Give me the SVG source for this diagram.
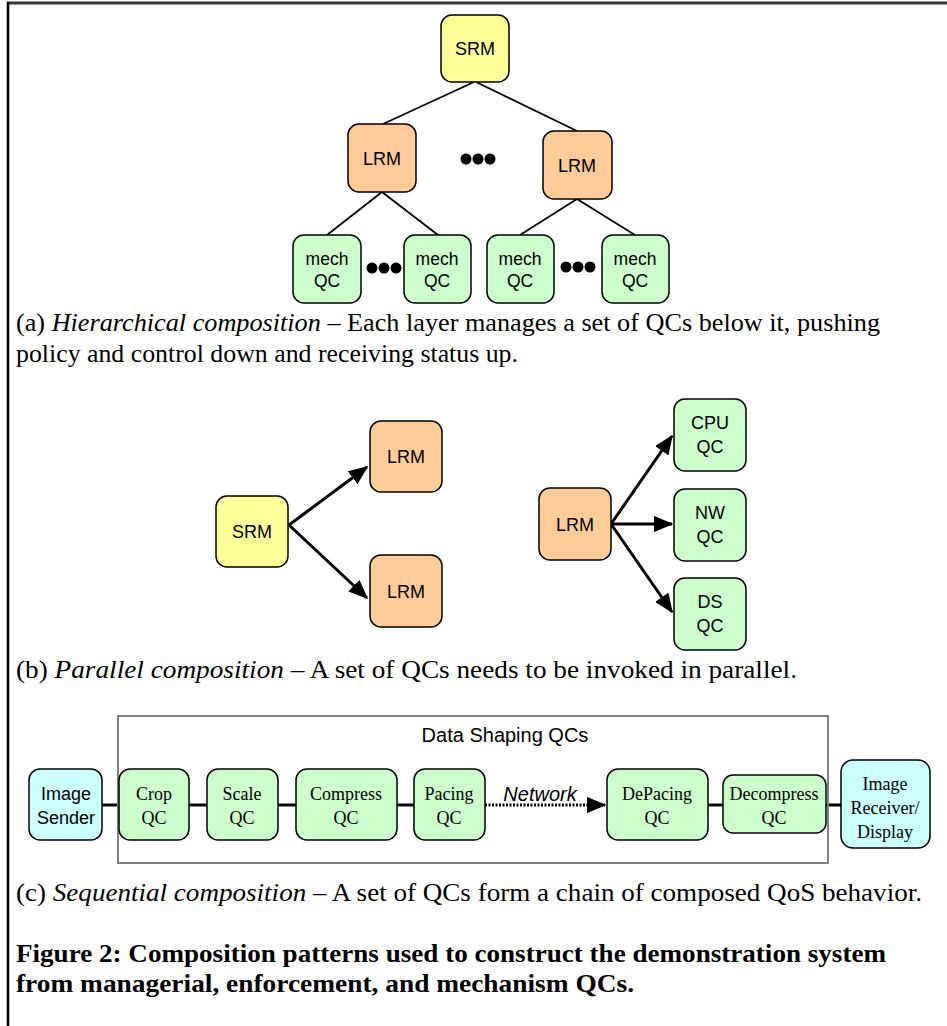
<svg xmlns="http://www.w3.org/2000/svg" width="947" height="1026" viewBox="0 0 947 1026">
<style>
.n{stroke:#000;stroke-width:1.5}
.srm{fill:#ffff99}
.lrm{fill:#ffcc99}
.qc{fill:#ccffcc}
.io{fill:#ccffff}
.sans{font-family:"Liberation Sans",Arial,sans-serif;fill:#000;text-anchor:middle}
.ser{font-family:"Liberation Serif","Times New Roman",serif;fill:#000;text-anchor:middle}
.cap{font-family:"Liberation Serif","Times New Roman",serif;fill:#000;font-size:26px}
.tl{stroke:#000;stroke-width:1.8;fill:none}
.ar{stroke:#000;stroke-width:3;fill:none;marker-end:url(#ah)}
.ch{stroke:#000;stroke-width:3;fill:none}
</style>
<defs>
<marker id="ah" markerWidth="6.5" markerHeight="5.4" refX="6" refY="2.7" orient="auto" markerUnits="strokeWidth">
<path d="M0,0 L6.5,2.7 L0,5.4 Z" fill="#000"/>
</marker>
</defs>
<rect width="947" height="1026" fill="#fff"/>
<line x1="7" y1="3" x2="947" y2="3" stroke="#333" stroke-width="3"/>
<line x1="8" y1="2" x2="8" y2="1026" stroke="#000" stroke-width="2.5"/>

<g id="connectors">
<line class="tl" x1="474" y1="82" x2="383" y2="124"/>
<line class="tl" x1="476" y1="82" x2="577" y2="131"/>
<line class="tl" x1="382" y1="192" x2="327" y2="235"/>
<line class="tl" x1="382" y1="192" x2="438" y2="235"/>
<line class="tl" x1="577" y1="199" x2="520" y2="235"/>
<line class="tl" x1="577" y1="199" x2="635" y2="235"/>
<line class="ar" x1="289" y1="525" x2="367" y2="467"/>
<line class="ar" x1="289" y1="525" x2="367" y2="598"/>
<line class="ar" x1="611" y1="524" x2="672" y2="436"/>
<line class="ar" x1="611" y1="524" x2="672" y2="524"/>
<line class="ar" x1="611" y1="524" x2="672" y2="612"/>
<line class="ch" x1="102" y1="805" x2="119" y2="805"/>
<line class="ch" x1="189" y1="805" x2="207" y2="805"/>
<line class="ch" x1="278" y1="805" x2="296" y2="805"/>
<line class="ch" x1="397" y1="805" x2="414" y2="805"/>
<line x1="485" y1="805" x2="605" y2="805" stroke="#000" stroke-width="3" stroke-dasharray="2,1.5" marker-end="url(#ah)"/>
<line class="ch" x1="708" y1="805" x2="723" y2="805"/>
<line class="ch" x1="826" y1="805" x2="841" y2="805"/>
</g>

<g id="dots" fill="#000">
<circle cx="466" cy="159" r="5.5"/><circle cx="478" cy="159" r="5.5"/><circle cx="490" cy="159" r="5.5"/>
<circle cx="372" cy="268" r="5.5"/><circle cx="384" cy="268" r="5.5"/><circle cx="396" cy="268" r="5.5"/>
<circle cx="566" cy="267" r="5.5"/><circle cx="578" cy="267" r="5.5"/><circle cx="590" cy="267" r="5.5"/>
</g>

<g id="a-srm"><rect class="n srm" x="441" y="15" width="68" height="67" rx="11"/><text class="sans" x="475" y="55" font-size="18">SRM</text></g>
<g id="a-lrm1"><rect class="n lrm" x="348" y="124" width="68" height="68" rx="11"/><text class="sans" x="382" y="165" font-size="18">LRM</text></g>
<g id="a-lrm2"><rect class="n lrm" x="543" y="131" width="69" height="68" rx="11"/><text class="sans" x="577" y="172" font-size="18">LRM</text></g>
<g id="a-mech1"><rect class="n qc" x="293" y="235" width="68" height="68" rx="11"/><text class="sans" x="327" y="265" font-size="17.5">mech</text><text class="sans" x="327" y="287" font-size="17.5">QC</text></g>
<g id="a-mech2"><rect class="n qc" x="404" y="235" width="67" height="68" rx="11"/><text class="sans" x="437" y="265" font-size="17.5">mech</text><text class="sans" x="437" y="287" font-size="17.5">QC</text></g>
<g id="a-mech3"><rect class="n qc" x="487" y="235" width="67" height="68" rx="11"/><text class="sans" x="520" y="265" font-size="17.5">mech</text><text class="sans" x="520" y="287" font-size="17.5">QC</text></g>
<g id="a-mech4"><rect class="n qc" x="602" y="235" width="67" height="68" rx="11"/><text class="sans" x="635" y="265" font-size="17.5">mech</text><text class="sans" x="635" y="287" font-size="17.5">QC</text></g>

<text class="cap" x="16" y="331" textLength="864" lengthAdjust="spacingAndGlyphs">(a) <tspan font-style="italic">Hierarchical composition</tspan> – Each layer manages a set of QCs below it, pushing</text>
<text class="cap" x="16" y="362" textLength="502" lengthAdjust="spacingAndGlyphs">policy and control down and receiving status up.</text>

<g id="b-srm"><rect class="n srm" x="216" y="496" width="72" height="71" rx="11"/><text class="sans" x="252" y="538" font-size="18">SRM</text></g>
<g id="b-lrm1"><rect class="n lrm" x="370" y="421" width="72" height="71" rx="11"/><text class="sans" x="406" y="463" font-size="18">LRM</text></g>
<g id="b-lrm2"><rect class="n lrm" x="370" y="555" width="72" height="72" rx="11"/><text class="sans" x="406" y="598" font-size="18">LRM</text></g>
<g id="b-lrm3"><rect class="n lrm" x="539" y="488" width="72" height="72" rx="11"/><text class="sans" x="575" y="531" font-size="18">LRM</text></g>
<g id="b-cpu"><rect class="n qc" x="674" y="399" width="72" height="72" rx="11"/><text class="sans" x="710" y="429" font-size="18">CPU</text><text class="sans" x="710" y="453" font-size="18">QC</text></g>
<g id="b-nw"><rect class="n qc" x="674" y="489" width="72" height="72" rx="11"/><text class="sans" x="710" y="519" font-size="18">NW</text><text class="sans" x="710" y="543" font-size="18">QC</text></g>
<g id="b-ds"><rect class="n qc" x="674" y="578" width="72" height="72" rx="11"/><text class="sans" x="710" y="608" font-size="18">DS</text><text class="sans" x="710" y="632" font-size="18">QC</text></g>

<text class="cap" x="16" y="678" textLength="781" lengthAdjust="spacingAndGlyphs">(b) <tspan font-style="italic">Parallel composition</tspan> – A set of QCs needs to be invoked in parallel.</text>

<g id="c-group"><rect x="118" y="716" width="710" height="147" fill="none" stroke="#808080" stroke-width="2"/><text class="sans" x="505" y="742" font-size="20">Data Shaping QCs</text></g>
<g id="c-sender"><rect class="n io" x="29" y="769" width="73" height="71" rx="11"/><text class="sans" x="66" y="800" font-size="18">Image</text><text class="sans" x="66" y="824" font-size="18">Sender</text></g>
<g id="c-crop"><rect class="n qc" x="119" y="769" width="70" height="71" rx="11"/><text class="ser" x="154" y="800" font-size="18">Crop</text><text class="ser" x="154" y="824" font-size="18">QC</text></g>
<g id="c-scale"><rect class="n qc" x="207" y="769" width="71" height="71" rx="11"/><text class="ser" x="242" y="800" font-size="18">Scale</text><text class="ser" x="242" y="824" font-size="18">QC</text></g>
<g id="c-compress"><rect class="n qc" x="296" y="769" width="101" height="71" rx="11"/><text class="ser" x="346" y="800" font-size="18">Compress</text><text class="ser" x="346" y="824" font-size="18">QC</text></g>
<g id="c-pacing"><rect class="n qc" x="414" y="769" width="71" height="71" rx="11"/><text class="ser" x="449" y="800" font-size="18">Pacing</text><text class="ser" x="449" y="824" font-size="18">QC</text></g>
<text class="sans" x="540" y="801" font-size="20" font-style="italic">Network</text>
<g id="c-depacing"><rect class="n qc" x="607" y="769" width="101" height="71" rx="11"/><text class="ser" x="657" y="800" font-size="18">DePacing</text><text class="ser" x="657" y="824" font-size="18">QC</text></g>
<g id="c-decompress"><rect class="n qc" x="723" y="775" width="103" height="58" rx="10"/><text class="ser" x="774" y="800" font-size="18">Decompress</text><text class="ser" x="774" y="824" font-size="18">QC</text></g>
<g id="c-receiver"><rect class="n io" x="841" y="760" width="89" height="88" rx="12"/><text class="ser" x="885" y="790" font-size="18">Image</text><text class="ser" x="885" y="814" font-size="18">Receiver/</text><text class="ser" x="885" y="838" font-size="18">Display</text></g>

<text class="cap" x="16" y="901" textLength="906" lengthAdjust="spacingAndGlyphs">(c) <tspan font-style="italic">Sequential composition</tspan> – A set of QCs form a chain of composed QoS behavior.</text>
<text class="cap" x="16" y="962" font-weight="bold" textLength="870" lengthAdjust="spacingAndGlyphs">Figure 2: Composition patterns used to construct the demonstration system</text>
<text class="cap" x="16" y="992" font-weight="bold" textLength="618" lengthAdjust="spacingAndGlyphs">from managerial, enforcement, and mechanism QCs.</text>
</svg>
